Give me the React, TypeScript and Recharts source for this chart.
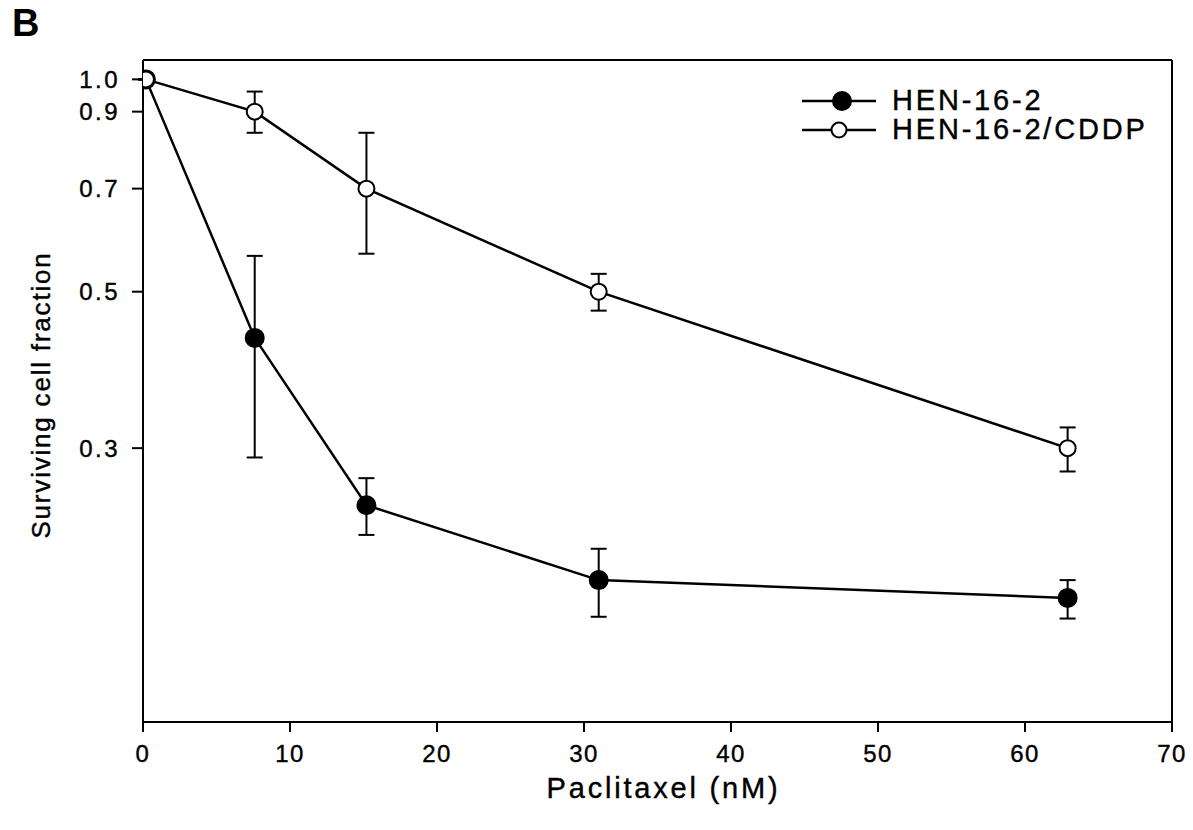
import React from "react";
import {
  LineChart,
  Line,
  XAxis,
  YAxis,
  ErrorBar,
  ReferenceLine,
} from "recharts";

// paclitaxel doses (nM)
const doses = [0.2, 7.6, 15.2, 31.0, 62.9];

// surviving fraction, parental line
const henValues = [1.0, 0.43, 0.249, 0.195, 0.184];
const henErrors = [
  [0, 0],
  [0.139, 0.132],
  [0.023, 0.023],
  [0.022, 0.021],
  [0.012, 0.011],
];

// surviving fraction, cisplatin-resistant line
const cddpValues = [1.0, 0.9, 0.7, 0.5, 0.3];
const cddpErrors = [
  [0, 0],
  [0.06, 0.061],
  [0.134, 0.14],
  [0.03, 0.03],
  [0.022, 0.021],
];

const seriesNames = ["HEN-16-2", "HEN-16-2/CDDP"];
const xTicks = [0, 10, 20, 30, 40, 50, 60, 70];
const yTicks = [0.3, 0.5, 0.7, 0.9, 1.0];
const yMin = 0.1227;
const yMax = 1.0653;

const FONT = "'Liberation Sans', Arial, Helvetica, sans-serif";

const henData = doses.map((x, i) => ({ x, y: henValues[i], err: henErrors[i] }));
const cddpData = doses.map((x, i) => ({ x, y: cddpValues[i], err: cddpErrors[i] }));

function Marker({ cx, cy, filled }: { cx?: number; cy?: number; filled: boolean }) {
  if (cx == null || cy == null) return null;
  return (
    <circle
      cx={cx}
      cy={cy}
      r={filled ? 9 : 8}
      fill={filled ? "#000" : "#fff"}
      stroke="#000"
      strokeWidth={2}
    />
  );
}

// legend drawn as a plain overlay so it takes no room from the plot
function LegendBox() {
  return (
    <div
      style={{
        position: "absolute",
        left: 800,
        top: 86,
        fontFamily: FONT,
        fontSize: 29,
        letterSpacing: 2.8,
        color: "#000",
        WebkitTextStroke: "0.4px #000",
      }}
    >
      {seriesNames.map((name, i) => (
        <div key={name} style={{ display: "flex", alignItems: "center", height: 29 }}>
          <svg width={78} height={24}>
            <line x1={2} y1={12} x2={76} y2={12} stroke="#000" strokeWidth={2.5} />
            <circle
              cx={i === 0 ? 42 : 39}
              cy={12}
              r={i === 0 ? 9 : 7.5}
              fill={i === 0 ? "#000" : "#fff"}
              stroke="#000"
              strokeWidth={2}
            />
          </svg>
          <span style={{ marginLeft: 14 }}>{name}</span>
        </div>
      ))}
    </div>
  );
}

function YTitle(props: any) {
  const vb = props.viewBox || {};
  const cy = vb.y + vb.height / 2 + 4;
  return (
    <text
      x={50}
      y={cy}
      transform={`rotate(-90, 50, ${cy})`}
      textAnchor="middle"
      fontFamily={FONT}
      fontSize={26}
      letterSpacing={1.8}
      fill="#000"
      stroke="#000"
      strokeWidth={0.4}
    >
      Surviving cell fraction
    </text>
  );
}

function XTitle(props: any) {
  const vb = props.viewBox || {};
  const cx = vb.x + vb.width / 2;
  return (
    <text
      x={cx + 6}
      y={vb.y + 76}
      textAnchor="middle"
      fontFamily={FONT}
      fontSize={29}
      letterSpacing={2.8}
      fill="#000"
      stroke="#000"
      strokeWidth={0.4}
    >
      Paclitaxel (nM)
    </text>
  );
}

const tickStyle = {
  fill: "#000",
  fontSize: 24,
  fontFamily: FONT,
  stroke: "#000",
  strokeWidth: 0.4,
};

export default function App() {
  return (
    <div
      style={{
        position: "absolute",
        left: 0,
        top: 0,
        width: 1193,
        height: 830,
        background: "#fff",
      }}
    >
      <div
        style={{
          position: "absolute",
          left: 12,
          top: 2,
          fontFamily: FONT,
          fontWeight: "bold",
          fontSize: 38,
          color: "#000",
        }}
      >
        B
      </div>
      <LineChart
        width={1193}
        height={830}
        margin={{ top: 60, right: 21, bottom: 40, left: 0 }}
      >
        <XAxis
          dataKey="x"
          type="number"
          domain={[0, 70]}
          ticks={xTicks}
          allowDataOverflow
          height={68}
          tickSize={10}
          tickMargin={13}
          axisLine={{ stroke: "#000", strokeWidth: 2 }}
          tickLine={{ stroke: "#000", strokeWidth: 2 }}
          tick={{ ...tickStyle, letterSpacing: 1.5 }}
          label={<XTitle />}
        />
        <YAxis
          dataKey="y"
          type="number"
          scale="log"
          domain={[yMin, yMax]}
          ticks={yTicks}
          allowDataOverflow
          width={143}
          tickSize={11}
          tickMargin={12}
          tickFormatter={(v: number) => v.toFixed(1)}
          axisLine={{ stroke: "#000", strokeWidth: 2 }}
          tickLine={{ stroke: "#000", strokeWidth: 2 }}
          tick={{ ...tickStyle, letterSpacing: 2.5 }}
          label={<YTitle />}
        />
        <ReferenceLine y={yMax} stroke="#000" strokeWidth={2} />
        <ReferenceLine x={70} stroke="#000" strokeWidth={2} />
        <Line
          data={henData}
          dataKey="y"
          name={seriesNames[0]}
          stroke="#000"
          strokeWidth={2.5}
          dot={(p: any) => <Marker key={`h${p.index}`} cx={p.cx} cy={p.cy} filled />}
          isAnimationActive={false}
        >
          <ErrorBar dataKey="err" direction="y" width={8} stroke="#000" strokeWidth={2} />
        </Line>
        <Line
          data={cddpData}
          dataKey="y"
          name={seriesNames[1]}
          stroke="#000"
          strokeWidth={2.5}
          dot={(p: any) => <Marker key={`c${p.index}`} cx={p.cx} cy={p.cy} filled={false} />}
          isAnimationActive={false}
        >
          <ErrorBar dataKey="err" direction="y" width={8} stroke="#000" strokeWidth={2} />
        </Line>
      </LineChart>
      <LegendBox />
    </div>
  );
}
